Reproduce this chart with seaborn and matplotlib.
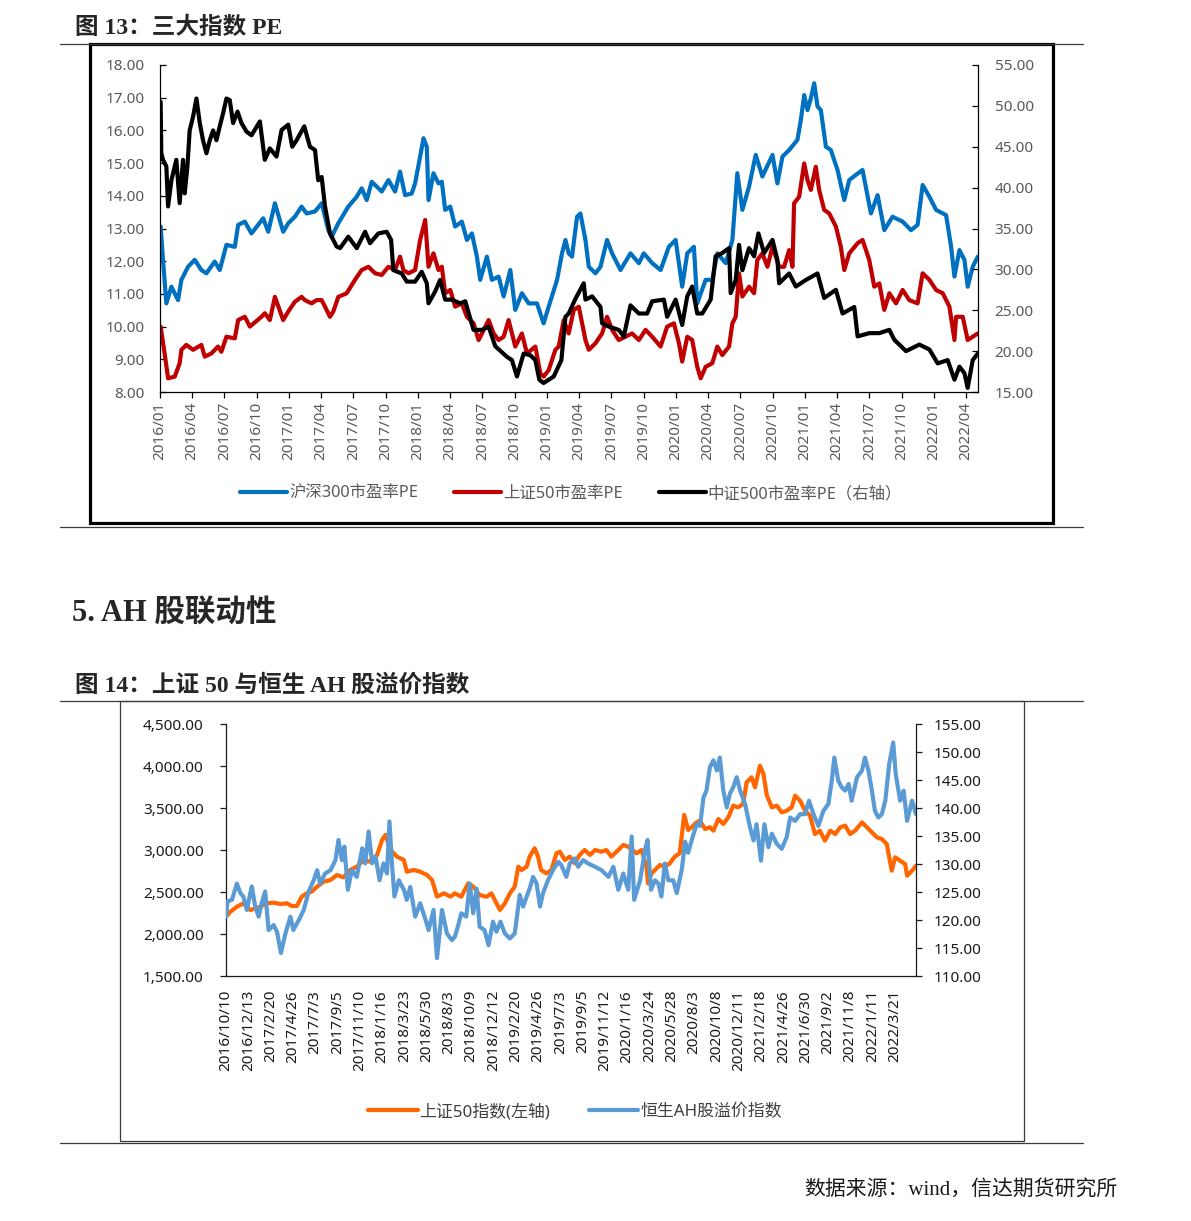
import numpy as np
import pandas as pd
import matplotlib
matplotlib.use("Agg")
import matplotlib.pyplot as plt
import seaborn as sns
from matplotlib.lines import Line2D
from matplotlib.patches import Rectangle
from matplotlib.ticker import FixedLocator, FuncFormatter, MultipleLocator

# ---------------- data: chart 13 (months since 2016/01) ----------------
hs300_m = [0.06, 0.28, 0.59, 1.06, 1.68, 1.99, 2.61, 3.23, 3.85, 4.32, 5.09, 5.56, 6.18, 6.96, 7.27, 7.89,
           8.51, 9.13, 9.60, 10.07, 10.69, 11.46, 11.93, 12.55, 13.17, 13.64, 14.42, 15.04, 15.66, 15.97,
           16.59, 17.52, 18.30, 18.76, 19.23, 19.70, 20.63, 21.25, 21.87, 22.33, 22.80, 23.42, 23.73, 24.20,
           24.51, 24.82, 24.98, 25.44, 25.91, 26.22, 26.53, 27.00, 27.46, 28.08, 28.55, 29.02, 29.48, 29.79,
           30.41, 30.88, 31.50, 31.97, 32.59, 33.05, 33.67, 34.30, 35.07, 35.69, 36.16, 36.94, 37.40, 37.72,
           38.02, 38.33, 38.80, 39.11, 39.58, 39.89, 40.51, 40.98, 41.59, 42.06, 42.84, 43.77, 44.55, 45.01,
           45.79, 46.57, 47.34, 47.97, 48.58, 49.05, 49.67, 49.98, 50.76, 51.38, 51.85, 52.63, 53.25, 53.71,
           54.18, 54.80, 55.42, 56.04, 56.98, 57.44, 57.91, 58.53, 59.30, 59.62, 59.93, 60.24, 60.55, 60.86,
           61.17, 61.48, 61.95, 62.41, 63.03, 63.66, 64.12, 64.74, 65.36, 66.14, 66.76, 67.38, 68.15, 69.09,
           69.87, 70.48, 70.95, 71.58, 72.20, 73.13, 73.60, 73.91, 74.37, 74.84, 75.14, 75.61, 76.08]
hs300_pe = [13.06, 12.04, 10.71, 11.22, 10.81, 11.43, 11.83, 12.04, 11.73, 11.63, 11.99, 11.73, 12.50, 12.44,
            13.11, 13.21, 12.85, 13.11, 13.31, 12.90, 13.77, 12.90, 13.16, 13.36, 13.67, 13.46, 13.52, 13.77,
            12.95, 12.75, 13.16, 13.67, 13.97, 14.23, 13.87, 14.43, 14.13, 14.48, 14.13, 14.74, 14.02, 14.07,
            14.38, 15.20, 15.76, 15.50, 13.87, 14.69, 14.38, 14.43, 13.57, 13.67, 13.06, 13.21, 12.65, 12.85,
            12.14, 11.43, 12.14, 11.43, 11.53, 10.92, 11.73, 10.51, 11.02, 10.71, 10.71, 10.10, 10.61, 11.43,
            12.24, 12.65, 12.24, 12.14, 13.36, 13.46, 12.65, 11.83, 11.63, 11.83, 12.65, 12.24, 11.73, 12.24,
            11.94, 12.24, 11.94, 11.73, 12.44, 12.65, 11.22, 12.24, 12.44, 10.71, 11.43, 11.43, 12.24, 11.94,
            12.65, 14.69, 13.57, 14.28, 15.25, 14.59, 15.25, 14.38, 15.20, 15.40, 15.71, 16.32, 17.08, 16.62,
            16.98, 17.44, 16.73, 16.62, 15.50, 15.40, 14.79, 13.87, 14.48, 14.64, 14.79, 13.46, 14.02, 12.95,
            13.36, 13.21, 12.95, 13.11, 14.33, 13.97, 13.57, 13.41, 12.44, 11.53, 12.34, 12.04, 11.22, 11.83,
            12.14]

sz50_m = [0.06, 0.43, 0.75, 1.37, 1.83, 1.99, 2.45, 3.08, 3.85, 4.16, 4.78, 5.40, 5.71, 6.18, 6.96, 7.27,
          7.89, 8.36, 9.44, 9.75, 10.22, 10.69, 11.46, 11.93, 12.55, 13.17, 13.48, 14.10, 14.57, 15.04, 15.35,
          15.81, 16.12, 16.59, 17.37, 18.14, 18.76, 19.39, 20.01, 20.63, 21.25, 21.87, 22.33, 22.64, 23.11,
          23.73, 24.20, 24.67, 24.98, 25.44, 25.91, 26.22, 26.53, 27.00, 27.46, 28.08, 28.55, 29.17, 29.64,
          29.95, 30.57, 31.04, 31.50, 31.97, 32.43, 32.74, 33.05, 33.67, 34.14, 34.92, 35.38, 35.69, 36.16,
          36.78, 37.09, 37.56, 38.02, 38.49, 38.96, 39.58, 39.89, 40.51, 41.13, 41.59, 42.06, 42.68, 43.31,
          43.92, 44.55, 45.17, 45.79, 46.57, 47.18, 47.81, 48.28, 48.58, 49.05, 49.51, 49.98, 50.30, 50.76,
          51.38, 51.85, 52.31, 52.94, 53.25, 53.56, 53.87, 54.18, 54.80, 55.27, 55.57, 56.04, 56.51, 56.98,
          57.60, 58.06, 58.53, 58.84, 58.99, 59.46, 59.93, 60.24, 60.55, 61.01, 61.32, 61.79, 62.26, 62.88,
          63.34, 63.66, 64.12, 64.90, 65.36, 65.98, 66.45, 66.92, 67.38, 67.85, 68.47, 69.09, 69.71, 70.48,
          70.95, 71.58, 72.20, 72.82, 73.44, 73.91, 74.06, 74.68, 75.14, 75.61, 76.08]
sz50_pe = [10.00, 9.18, 8.42, 8.47, 8.88, 9.29, 9.44, 9.29, 9.44, 9.08, 9.18, 9.39, 9.23, 9.69, 9.64, 10.20,
           10.30, 10.00, 10.30, 10.41, 10.20, 10.91, 10.20, 10.46, 10.76, 10.91, 10.81, 10.71, 10.81, 10.81,
           10.61, 10.30, 10.46, 10.91, 11.02, 11.43, 11.73, 11.83, 11.63, 11.58, 11.83, 11.73, 12.14, 11.73,
           11.63, 11.73, 12.65, 13.26, 11.83, 12.24, 11.73, 11.83, 11.02, 11.12, 10.61, 10.71, 10.30, 10.10,
           9.59, 9.79, 10.20, 9.79, 9.59, 9.69, 10.20, 9.79, 9.39, 9.79, 9.18, 9.39, 8.57, 8.47, 8.67, 9.29,
           9.39, 10.20, 9.79, 10.51, 10.61, 9.59, 9.29, 9.49, 9.79, 10.30, 9.90, 9.59, 9.69, 9.79, 9.59, 9.90,
           9.69, 9.39, 10.00, 10.10, 9.49, 8.93, 9.69, 9.59, 8.77, 8.42, 8.77, 8.88, 9.39, 9.13, 9.39, 10.10,
           10.30, 11.63, 10.92, 11.22, 11.02, 12.04, 12.24, 11.83, 12.44, 11.83, 11.83, 12.34, 11.83, 13.77,
           13.97, 14.99, 14.48, 14.18, 14.89, 14.18, 13.57, 13.46, 13.06, 12.44, 11.73, 12.24, 12.55, 12.65,
           12.04, 11.22, 11.32, 10.51, 11.02, 10.71, 11.12, 10.81, 10.71, 11.63, 11.43, 11.12, 11.02, 10.61,
           9.59, 10.30, 10.30, 9.59, 9.69, 9.79]

zz500_m = [0.06, 0.12, 0.28, 0.59, 0.75, 1.06, 1.52, 1.83, 2.14, 2.30, 2.55, 2.76, 3.08, 3.39, 3.70, 4.00,
           4.32, 4.63, 4.94, 5.25, 5.56, 5.87, 6.18, 6.49, 6.80, 7.21, 7.58, 8.05, 8.51, 9.29, 9.75, 10.22,
           10.84, 11.31, 11.93, 12.30, 12.71, 13.42, 13.95, 14.42, 14.72, 15.04, 15.35, 15.81, 16.43, 16.75,
           17.52, 18.30, 19.08, 19.54, 20.32, 21.09, 21.50, 21.71, 22.49, 22.96, 23.73, 24.35, 24.82, 24.98,
           25.60, 26.06, 26.53, 27.15, 27.93, 28.40, 29.17, 29.95, 30.57, 31.19, 32.28, 32.74, 33.21, 33.83,
           34.45, 34.92, 35.29, 35.69, 36.63, 37.34, 37.72, 38.02, 38.65, 39.42, 39.58, 40.20, 40.98, 41.13,
           41.75, 42.68, 43.15, 43.77, 44.55, 45.32, 45.79, 46.88, 47.18, 47.97, 48.58, 49.05, 49.51, 49.98,
           50.45, 51.23, 51.69, 52.31, 52.94, 53.09, 53.56, 53.87, 54.18, 54.80, 55.27, 55.67, 56.20, 56.98,
           57.44, 57.60, 58.53, 59.15, 60.08, 61.17, 61.79, 62.88, 63.50, 64.59, 64.90, 65.98, 66.92, 67.85,
           68.31, 69.40, 70.64, 71.58, 72.35, 73.28, 73.91, 74.37, 74.84, 75.14, 75.61, 76.08]
zz500_pe = [50.5, 44.2, 43.4, 42.6, 37.7, 40.9, 43.4, 38.1, 43.4, 39.3, 42.6, 47.0, 48.7, 50.9, 47.9, 45.8,
            44.2, 45.8, 47.0, 45.8, 47.5, 49.1, 50.9, 50.7, 47.9, 49.3, 47.9, 46.85, 46.4, 48.1, 43.4, 44.8,
            43.8, 47.05, 47.7, 45.0, 45.8, 47.5, 45.0, 44.6, 40.9, 41.3, 37.7, 34.4, 32.8, 32.6, 34.0, 32.6,
            34.6, 33.2, 34.4, 34.6, 33.6, 29.9, 29.5, 28.5, 28.5, 29.7, 28.3, 25.85, 27.3, 28.7, 26.3, 26.3,
            25.85, 26.1, 22.6, 22.6, 23.0, 20.6, 19.3, 18.9, 16.9, 19.7, 19.5, 18.9, 16.5, 16.1, 16.9, 18.9,
            24.2, 24.6, 26.4, 28.3, 26.3, 26.7, 25.4, 23.4, 23.0, 22.6, 21.8, 25.6, 24.6, 24.6, 26.1, 26.3,
            24.2, 26.3, 23.2, 26.7, 27.9, 24.6, 24.6, 26.3, 31.6, 32.0, 32.6, 27.1, 28.7, 33.0, 29.9, 32.6,
            31.6, 34.4, 32.0, 33.6, 31.15, 28.3, 29.5, 27.9, 28.7, 29.5, 26.5, 27.5, 24.6, 25.4, 21.8, 22.2,
            22.2, 22.6, 21.4, 20.0, 20.8, 20.2, 18.5, 18.9, 16.5, 18.1, 17.3, 15.5, 18.9, 19.7]

pe_ticklabels = ["2016/01", "2016/04", "2016/07", "2016/10", "2017/01", "2017/04", "2017/07", "2017/10",
                 "2018/01", "2018/04", "2018/07", "2018/10", "2019/01", "2019/04", "2019/07", "2019/10",
                 "2020/01", "2020/04", "2020/07", "2020/10", "2021/01", "2021/04", "2021/07", "2021/10",
                 "2022/01", "2022/04"]

# ---------------- data: chart 14 (trading-day index from 2016/10/10) ----------------
sz50_day = [0, 9, 22, 35, 49, 62, 83, 96, 110, 123, 133, 143, 153, 163, 173, 184, 197, 211, 224, 237, 251,
            264, 278, 291, 305, 315, 322, 332, 345, 359, 365, 379, 392, 406, 416, 426, 440, 453, 462, 475,
            489, 499, 512, 526, 536, 546, 553, 563, 573, 583, 590, 597, 607, 613, 623, 630, 636, 647, 657,
            667, 674, 684, 694, 704, 714, 724, 735, 745, 758, 768, 778, 792, 802, 812, 829, 839, 849, 852,
            859, 866, 876, 886, 896, 906, 916, 925, 933, 940, 950, 957, 967, 977, 984, 994, 1004, 1014,
            1024, 1034, 1044, 1051, 1061, 1068, 1078, 1085, 1092, 1102, 1112, 1122, 1132, 1142, 1149, 1159,
            1169, 1179, 1189, 1199, 1209, 1220, 1230, 1240, 1250, 1260, 1270, 1284, 1294, 1304, 1314, 1324,
            1334, 1344, 1351, 1361, 1371, 1375, 1385, 1393]
sz50_idx = [2206, 2266, 2325, 2365, 2286, 2306, 2365, 2373, 2357, 2365, 2333, 2333, 2445, 2484, 2504, 2564,
            2623, 2643, 2702, 2675, 2762, 2802, 2881, 2861, 2940, 3119, 3179, 3000, 2921, 2881, 2742, 2762,
            2742, 2702, 2643, 2445, 2484, 2445, 2484, 2444, 2603, 2564, 2464, 2444, 2484, 2365, 2286, 2365,
            2484, 2564, 2802, 2762, 2802, 2921, 3020, 2921, 2762, 2722, 2762, 2960, 2980, 2881, 2921, 2841,
            2941, 3000, 2941, 3000, 2980, 3000, 2921, 3000, 3060, 3040, 2960, 3000, 2802, 2603, 2722, 2762,
            2822, 2802, 2841, 2921, 2960, 3417, 3238, 3270, 3329, 3349, 3250, 3270, 3230, 3369, 3310, 3389,
            3528, 3508, 3548, 3806, 3865, 3746, 4004, 3905, 3647, 3508, 3528, 3448, 3468, 3508, 3647, 3587,
            3468, 3409, 3190, 3230, 3111, 3230, 3190, 3270, 3290, 3190, 3230, 3329, 3270, 3210, 3151, 3131,
            3071, 2754, 2913, 2873, 2833, 2694, 2754, 2813]

ah_day = [0, 3, 12, 22, 29, 35, 42, 52, 59, 66, 72, 79, 86, 96, 103, 111, 120, 130, 136, 147, 157, 167, 177,
          184, 190, 200, 211, 221, 227, 234, 239, 246, 254, 264, 275, 281, 288, 295, 302, 310, 318, 325, 330,
          335, 340, 349, 359, 365, 372, 382, 392, 403, 409, 419, 426, 436, 446, 456, 462, 468, 475, 485, 492,
          499, 506, 512, 522, 530, 539, 546, 554, 563, 573, 583, 593, 600, 607, 613, 620, 627, 634, 640, 650,
          660, 671, 677, 687, 694, 704, 711, 721, 731, 745, 758, 772, 782, 792, 802, 812, 819, 824, 836, 846,
          851, 858, 866, 873, 879, 886, 893, 903, 910, 920, 927, 933, 940, 950, 957, 964, 970, 977, 984, 991,
          997, 1004, 1011, 1017, 1024, 1031, 1038, 1048, 1058, 1065, 1071, 1080, 1087, 1095, 1102, 1112, 1122,
          1132, 1139, 1149, 1159, 1169, 1177, 1186, 1196, 1206, 1216, 1223, 1228, 1236, 1243, 1250, 1257, 1263,
          1274, 1284, 1290, 1297, 1304, 1310, 1317, 1324, 1331, 1339, 1347, 1352, 1361, 1368, 1375, 1385, 1393]
ah_premium = [120.6, 123.3, 123.6, 126.5, 124.8, 124.2, 121.8, 126.0, 122.4, 120.6, 123.0, 125.1, 118.2,
              119.1, 117.9, 114.1, 117.6, 120.6, 118.2, 120.0, 121.8, 125.1, 127.1, 128.9, 126.5, 128.3,
              128.9, 130.7, 134.3, 130.7, 133.1, 125.4, 128.9, 127.7, 132.8, 130.1, 135.8, 130.1, 131.3,
              127.1, 130.1, 128.3, 137.6, 130.1, 124.2, 127.1, 125.4, 123.6, 125.9, 120.6, 123.0, 120.0,
              118.2, 121.8, 113.2, 121.8, 117.6, 116.4, 117.0, 118.8, 121.2, 120.6, 126.5, 121.2, 125.6,
              118.8, 118.2, 115.5, 119.7, 117.9, 119.7, 117.6, 116.7, 117.6, 124.5, 122.4, 124.2, 125.6,
              127.7, 126.5, 122.4, 124.8, 127.1, 128.9, 130.4, 129.8, 127.7, 130.1, 131.0, 129.5, 130.7,
              130.1, 129.5, 128.9, 127.7, 129.5, 125.4, 128.3, 125.4, 134.9, 123.6, 127.1, 132.5, 134.3,
              125.4, 127.1, 126.5, 124.2, 130.1, 127.1, 127.1, 124.8, 128.9, 134.0, 132.0, 134.2, 137.1,
              136.8, 141.9, 143.1, 147.3, 148.5, 146.7, 149.0, 143.1, 140.1, 142.5, 143.7, 145.5, 143.1,
              140.7, 136.5, 134.2, 137.1, 130.6, 137.1, 133.0, 135.4, 133.6, 132.7, 134.8, 138.3, 137.7,
              138.9, 138.9, 141.3, 138.9, 136.8, 139.5, 140.7, 144.9, 149.0, 144.9, 143.7, 143.1, 144.3,
              141.3, 145.5, 146.7, 149.0, 146.7, 143.1, 139.5, 138.3, 138.9, 141.3, 147.9, 151.7, 146.1,
              141.3, 143.1, 137.7, 141.3, 138.9]

ah_ticklabels = ["2016/10/10", "2016/12/13", "2017/2/20", "2017/4/26", "2017/7/3", "2017/9/5", "2017/11/10",
                 "2018/1/16", "2018/3/23", "2018/5/30", "2018/8/3", "2018/10/9", "2018/12/12", "2019/2/20",
                 "2019/4/26", "2019/7/3", "2019/9/5", "2019/11/12", "2020/1/16", "2020/3/24", "2020/5/28",
                 "2020/8/3", "2020/10/8", "2020/12/11", "2021/2/18", "2021/4/26", "2021/6/30", "2021/9/2",
                 "2021/11/8", "2022/1/11", "2022/3/21"]
ah_tick_step = 45

# ---------------- style ----------------
sns.set_theme(style="white")
plt.rcParams["font.family"] = ["Noto Sans", "Noto Sans CJK SC", "DejaVu Sans"]
plt.rcParams["axes.unicode_minus"] = False

W, H = 1191, 1221
fig = plt.figure(figsize=(W / 100, H / 100), dpi=100)


def fx(px):
    return px / W


def fy(py):
    return 1 - py / H


TITLE_FONT = ["Liberation Serif", "Noto Sans CJK SC"]

# ---------------- decorations ----------------
for yy in (44, 527, 701, 1143):
    fig.add_artist(Line2D([fx(60), fx(1083)], [fy(yy), fy(yy)], color="#3a3a3a", lw=0.9,
                          transform=fig.transFigure))
fig.add_artist(Rectangle((fx(90), fy(523)), (1053 - 90) / W, (523 - 44) / H, fill=False, lw=2.3,
                         ec="black", transform=fig.transFigure))
fig.add_artist(Rectangle((fx(120), fy(1141)), (1024 - 120) / W, (1141 - 701) / H, fill=False, lw=0.9,
                         ec="#3a3a3a", transform=fig.transFigure))

fig.text(fx(75), fy(28), "图 13：三大指数 PE", fontsize=17, fontweight="bold", family=TITLE_FONT,
         ha="left", va="center")
fig.text(fx(72), fy(614), "5. AH 股联动性", fontsize=22, fontweight="bold", family=TITLE_FONT,
         ha="left", va="center")
fig.text(fx(75), fy(685), "图 14：上证 50 与恒生 AH 股溢价指数", fontsize=17, fontweight="bold",
         family=TITLE_FONT, ha="left", va="center")
fig.text(fx(1117), fy(1190), "数据来源：wind，信达期货研究所", fontsize=15, family=TITLE_FONT,
         ha="right", va="center", color="#1a1a1a")

# ---------------- chart 13 ----------------
ax1 = fig.add_axes([fx(160), fy(392), (978 - 160) / W, (392 - 65) / H])
ax1r = ax1.twinx()

sns.lineplot(x=hs300_m, y=hs300_pe, ax=ax1, color="#0070C0", lw=3.0, estimator=None, sort=False)
sns.lineplot(x=sz50_m, y=sz50_pe, ax=ax1, color="#C00000", lw=3.0, estimator=None, sort=False)
sns.lineplot(x=zz500_m, y=zz500_pe, ax=ax1r, color="#000000", lw=3.0, estimator=None, sort=False)

ax1.set_xlim(0, 76.1)
ax1.set_ylim(8, 18)
ax1r.set_ylim(15, 55)
ax1.yaxis.set_major_locator(MultipleLocator(1))
ax1r.yaxis.set_major_locator(MultipleLocator(5))
ax1.yaxis.set_major_formatter(FuncFormatter(lambda v, p: f"{v:.2f}"))
ax1r.yaxis.set_major_formatter(FuncFormatter(lambda v, p: f"{v:.2f}"))
ax1.xaxis.set_major_locator(FixedLocator(np.arange(len(pe_ticklabels)) * 3))
ax1.set_xticklabels(pe_ticklabels, rotation=90)
for a in (ax1, ax1r):
    a.set_xlabel("")
    a.set_ylabel("")
    a.grid(False)
    a.set_facecolor("none")
    for s in a.spines.values():
        s.set_visible(False)
ax1.spines["left"].set_visible(True)
ax1.spines["bottom"].set_visible(True)
ax1r.spines["right"].set_visible(True)
for s in (ax1.spines["left"], ax1.spines["bottom"], ax1r.spines["right"]):
    s.set_color("#000000")
    s.set_linewidth(0.9)
ax1.tick_params(axis="y", direction="in", length=4, width=0.9, color="black", labelsize=11,
                labelcolor="#595959", pad=11, left=True)
ax1r.tick_params(axis="y", direction="in", length=4, width=0.9, color="black", labelsize=11,
                 labelcolor="#595959", pad=12, right=True)
ax1.tick_params(axis="x", direction="out", length=4, width=0.9, color="black", labelsize=11,
                labelcolor="#595959", pad=3, bottom=True)

h13 = [ax1.lines[0], ax1.lines[1], ax1r.lines[0]]
fig.legend(h13, ["沪深300市盈率PE", "上证50市盈率PE", "中证500市盈率PE（右轴）"], loc="center",
           bbox_to_anchor=(fx(571), fy(494)), ncol=3, frameon=False, handlelength=2.9,
           handletextpad=0.1, columnspacing=2.2, fontsize=11.8, labelcolor="#595959")

# ---------------- chart 14 ----------------
ax2 = fig.add_axes([fx(226), fy(976), (916 - 226) / W, (976 - 724) / H])
ax2r = ax2.twinx()

sns.lineplot(x=sz50_day, y=sz50_idx, ax=ax2, color="#FF6600", lw=3.0, estimator=None, sort=False)
sns.lineplot(x=ah_day, y=ah_premium, ax=ax2r, color="#5B9BD5", lw=3.0, estimator=None, sort=False)

ax2.set_xlim(0, 1393)
ax2.set_ylim(1500, 4500)
ax2r.set_ylim(110, 155)
ax2.yaxis.set_major_locator(MultipleLocator(500))
ax2r.yaxis.set_major_locator(MultipleLocator(5))
ax2.yaxis.set_major_formatter(FuncFormatter(lambda v, p: f"{v:,.2f}"))
ax2r.yaxis.set_major_formatter(FuncFormatter(lambda v, p: f"{v:.2f}"))
ax2.xaxis.set_major_locator(FixedLocator(np.arange(len(ah_ticklabels)) * ah_tick_step))
ax2.set_xticklabels(ah_ticklabels, rotation=90)
for a in (ax2, ax2r):
    a.set_xlabel("")
    a.set_ylabel("")
    a.grid(False)
    a.set_facecolor("none")
    for s in a.spines.values():
        s.set_visible(False)
ax2.spines["left"].set_visible(True)
ax2.spines["bottom"].set_visible(True)
ax2r.spines["right"].set_visible(True)
for s in (ax2.spines["left"], ax2.spines["bottom"], ax2r.spines["right"]):
    s.set_color("#1a1a1a")
    s.set_linewidth(0.9)
ax2.tick_params(axis="y", direction="out", length=4, width=0.9, color="#1a1a1a", labelsize=11,
                labelcolor="#1a1a1a", pad=12, left=True)
ax2r.tick_params(axis="y", direction="out", length=4, width=0.9, color="#1a1a1a", labelsize=11,
                 labelcolor="#1a1a1a", pad=9, right=True)
ax2.tick_params(axis="x", length=0, labelsize=11, labelcolor="#1a1a1a", pad=10)

h14 = [ax2.lines[0], ax2r.lines[0]]
fig.legend(h14, ["上证50指数(左轴)", "恒生AH股溢价指数"], loc="center",
           bbox_to_anchor=(fx(575), fy(1112)), ncol=2, frameon=False, handlelength=2.9,
           handletextpad=0.1, columnspacing=2.3, fontsize=12.2, labelcolor="#404040")

fig.savefig("out.png", dpi=100, facecolor="white")
